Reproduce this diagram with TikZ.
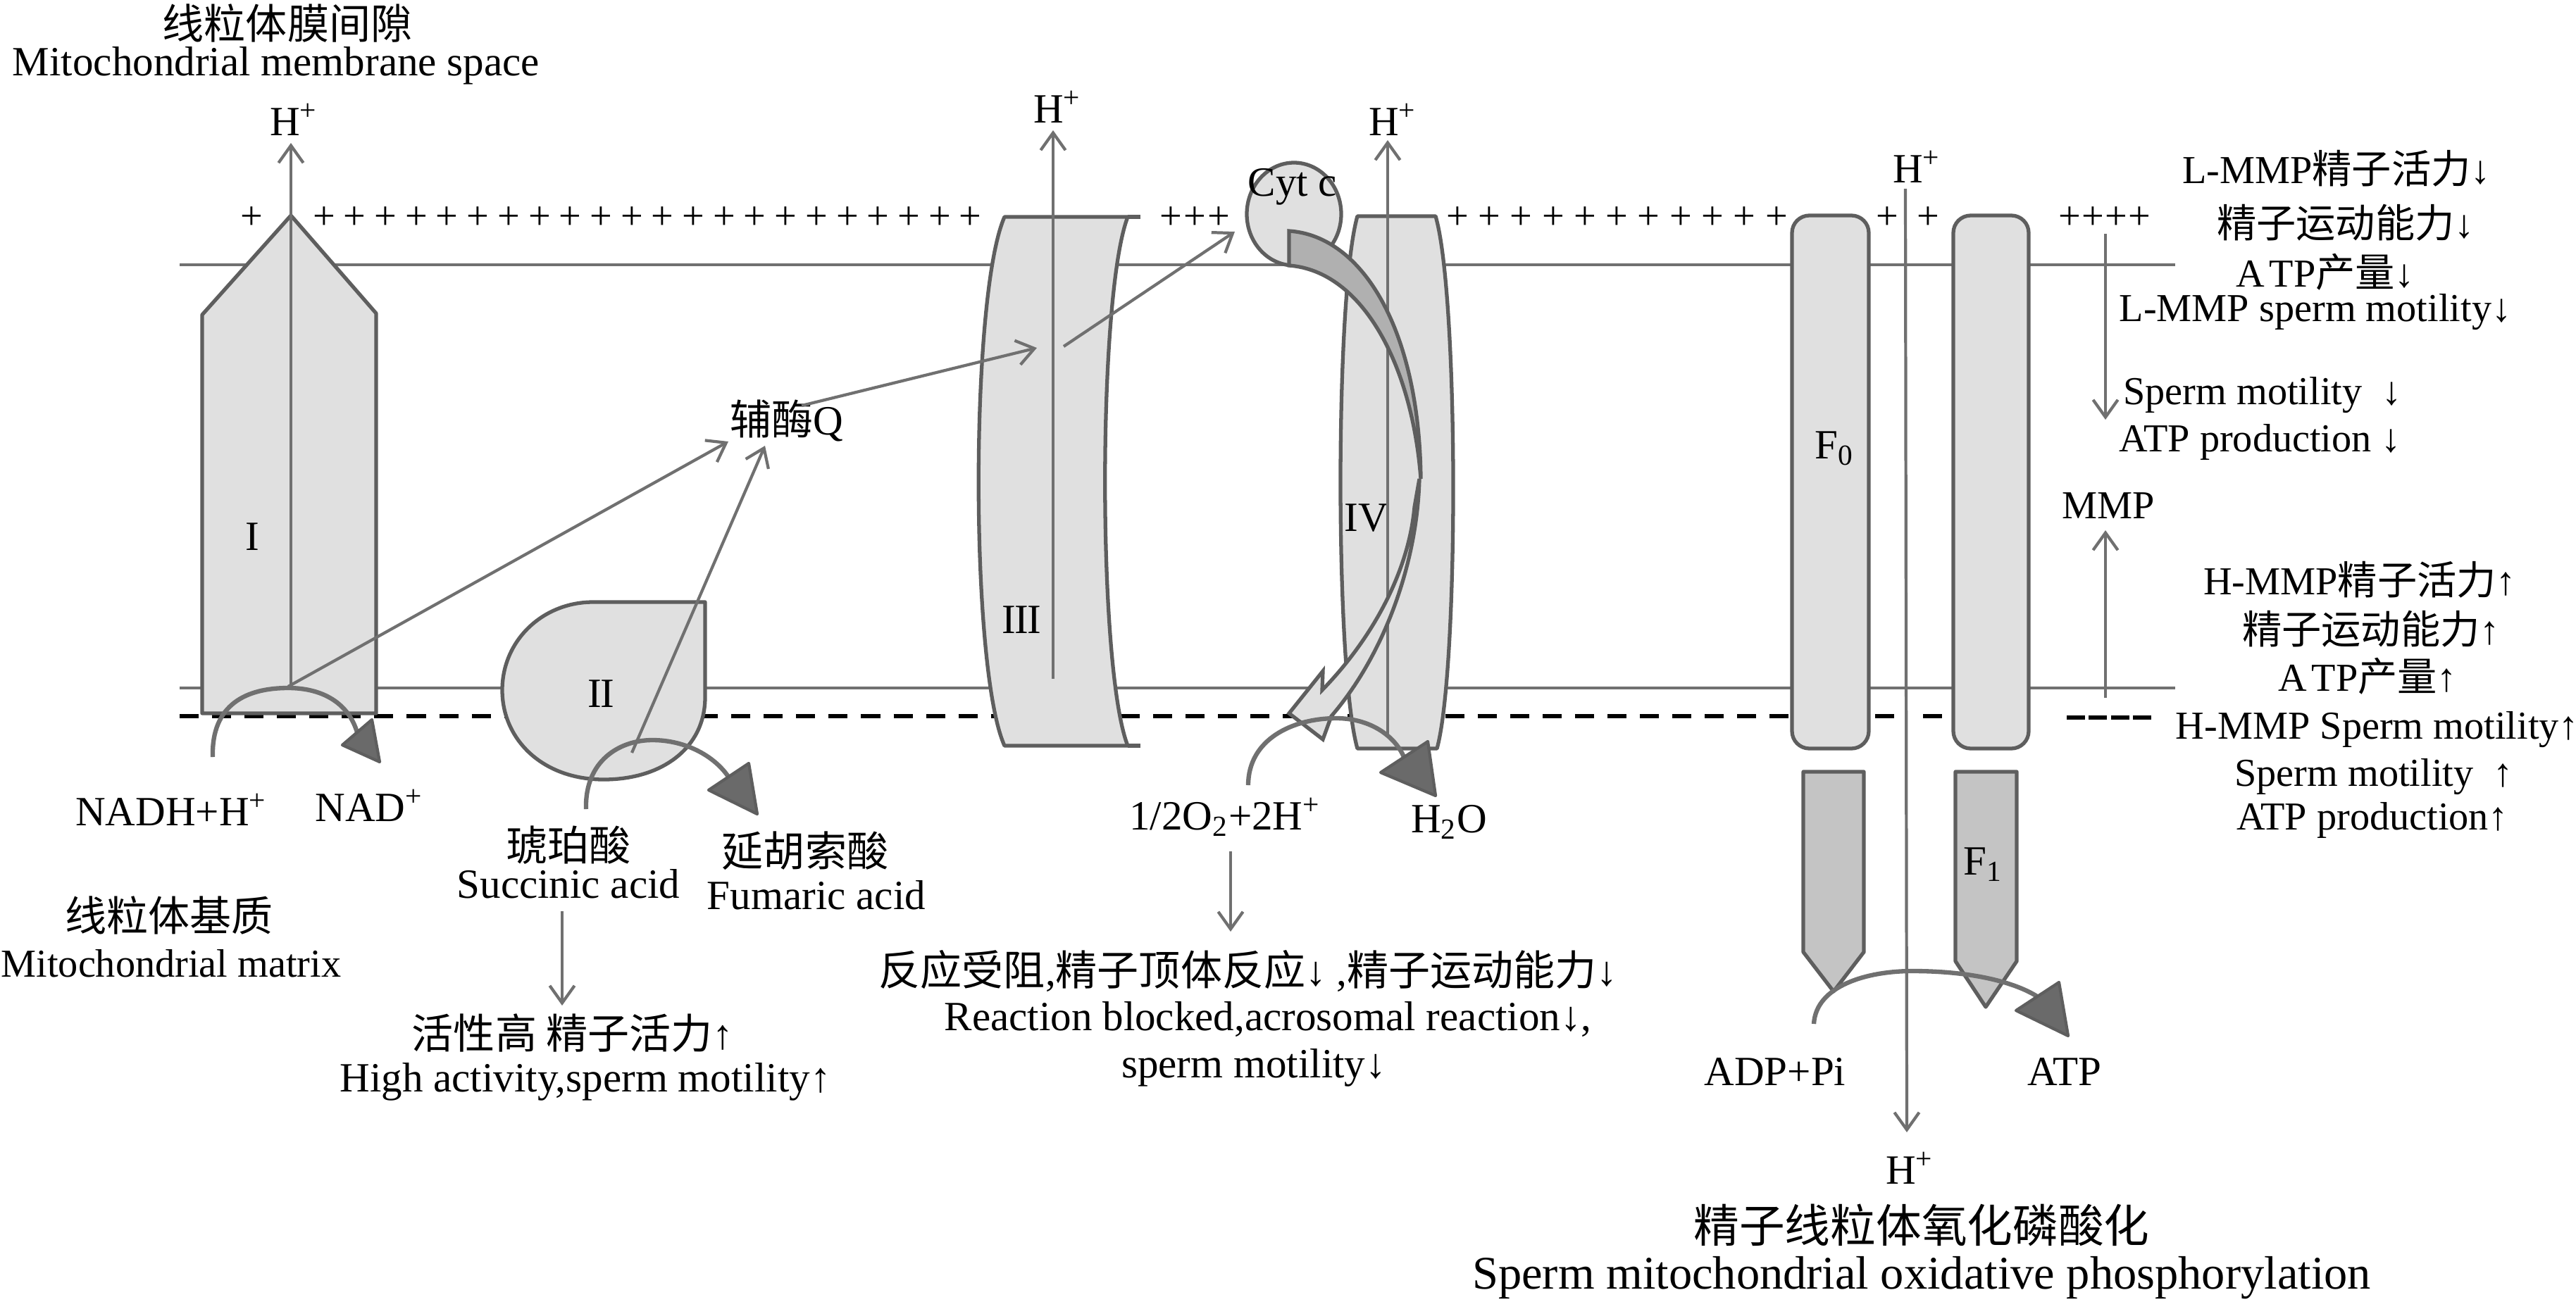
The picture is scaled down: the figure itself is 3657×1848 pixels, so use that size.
\documentclass[tikz,border=0pt]{standalone}
\usepackage{fontspec}
\setmainfont{Liberation Serif}
\newfontfamily\cjk{Noto Sans CJK SC}
\usetikzlibrary{arrows.meta}
\definecolor{fillL}{HTML}{E0E0E0}
\definecolor{edge}{HTML}{5E5E5E}
\definecolor{arr}{HTML}{707070}
\definecolor{memb}{HTML}{707070}
\definecolor{fone}{HTML}{C4C4C4}
\definecolor{headc}{HTML}{6A6A6A}
\definecolor{bandc}{HTML}{B0B0B0}
\tikzset{
  shapebox/.style={draw=edge, fill=fillL, line width=1.5pt, line join=round},
  membline/.style={draw=memb, line width=1.4pt},
  dashline/.style={draw=black, line width=1.7pt, dash pattern=on 7.7pt off 5.4pt},
  arrowline/.style={draw=arr, line width=1.2pt, -{Straight Barb[length=7pt,width=10pt,line width=1.2pt]}},
  arcline/.style={draw=arr, line width=1.8pt},
  headtri/.style={fill=headc, draw=edge, line width=1.2pt, line join=round},
  txt/.style={font=\fontsize{16.8}{20}\selectfont, inner sep=0pt},
  rtxt/.style={font=\fontsize{16}{19}\selectfont, inner sep=0pt},
  bigtxt/.style={font=\fontsize{18.4}{22}\selectfont, inner sep=0pt},
  bigtxte/.style={font=\fontsize{18.9}{22}\selectfont, inner sep=0pt},
  plus/.style={font=\fontsize{16}{19}\selectfont, inner sep=0pt}
}
\begin{document}
\begin{tikzpicture}[x=0.01cm,y=-0.01cm]
\useasboundingbox (0,0) rectangle (3657,1848);

% membranes
\draw[membline] (255,376) -- (3088,376);
\draw[membline] (255,977) -- (3088,977);
\draw[dashline] (255,1017) -- (2544,1017);
\draw[dashline, dash pattern=on 7.7pt off 1pt] (2662,1017) -- (2689,1017);
\draw[dashline, dash pattern=on 7.7pt off 1pt] (2730,1017) -- (2757,1017);
\draw[dashline, dash pattern=on 7.4pt off 1.5pt] (2934,1019) -- (3058,1019);

% plus signs
\node[plus] (p0) at (357,310) {+};
\foreach \i in {0,...,21} \node[plus] (pa\i) at ({460+43.7*\i},310) {+};
\foreach \i in {0,1,2} \node[plus] (pb\i) at ({1662+34*\i},310) {+};
\foreach \i in {0,...,10} \node[plus] (pc\i) at ({2069+45.3*\i},310) {+};
\node[plus] (pd0) at (2679,310) {+};
\node[plus] (pd1) at (2737,310) {+};
\foreach \i in {0,...,3} \node[plus] (pe\i) at ({2938+33*\i},310) {+};

% Complex I
\draw[shapebox] (287,1013) -- (287,447) -- (413,306) -- (534,445) -- (534,1013) -- cycle;
% Complex II
\draw[shapebox] (842,855) -- (1001,855) -- (1001,990) .. controls (1001,1062) and (940,1107) .. (857,1107)
  .. controls (770,1107) and (713,1050) .. (713,980) .. controls (713,910) and (770,855) .. (842,855) -- cycle;
% Complex III
\draw[shapebox] (1426,308) -- (1601,308) .. controls (1558,420) and (1558,950) .. (1601,1059) -- (1426,1059)
  .. controls (1377,950) and (1377,420) .. (1426,308) -- cycle;
\draw[draw=edge, line width=1.5pt] (1601,308) -- (1619,308);
\draw[draw=edge, line width=1.5pt] (1601,1059) -- (1619,1059);
% Cyt c
\draw[shapebox] (1837,304) ellipse [x radius=67, y radius=73];
% Complex IV
\draw[shapebox] (1927,307) -- (2038,307) .. controls (2071,420) and (2071,950) .. (2040,1063) -- (1927,1063)
  .. controls (1895,950) and (1895,420) .. (1927,307) -- cycle;
% F0
\draw[shapebox, rounded corners=7pt] (2544,306) rectangle (2653,1063);
\draw[shapebox, rounded corners=7pt] (2773,306) rectangle (2880,1063);
% F1
\draw[shapebox, fill=fone] (2560,1096) -- (2646,1096) -- (2646,1352) -- (2603,1408) -- (2560,1352) -- cycle;
\draw[shapebox, fill=fone] (2776,1096) -- (2863,1096) -- (2863,1365) -- (2819,1430) -- (2776,1365) -- cycle;

% labels of complexes
\node[txt] (labI) at (358,762) {I};
\node[txt] (labII) at (853,985) {I\kern-0.5ptI};
\node[txt] (labIII) at (1450,880) {I\kern-0.5ptI\kern-0.5ptI};
\node[txt] (labIV) at (1940,736) {IV};
\node[txt] (labF0) at (2604,637) {F\textsubscript{0}};
\node[txt] (labF1) at (2815,1228) {F\textsubscript{1}};
\node[txt] (cyt) at (1835,265) {Cyt c};
\node[txt] (Q) at (1117,597) {{\cjk 辅酶}Q};

% H+ labels
\node[txt] (hI) at (417,170) {H\textsuperscript{+}};
\node[txt] (hIII) at (1501,152) {H\textsuperscript{+}};
\node[txt] (hIV) at (1977,170) {H\textsuperscript{+}};
\node[txt] (hF) at (2721,237) {H\textsuperscript{+}};
\node[txt] (hFb) at (2711,1659) {H\textsuperscript{+}};

% coordinates for connectors
\coordinate (Ibot) at (413,977);
\coordinate (Itop) at (413,203);
\coordinate (IIIbot) at (1495,964);
\coordinate (IIItop) at (1495,185);
\coordinate (IVbot) at (1970,1047);
\coordinate (IVtop) at (1970,199);
\coordinate (Fstart) at (2705,268);
\coordinate (Fend) at (2707,1608);
\coordinate (Ibase) at (409,975);
\coordinate (Qin1) at (1034,627);
\coordinate (IIbase) at (897,1069);
\coordinate (Qin2) at (1086,633);
\coordinate (Qout) at (1138,576);
\coordinate (IIIin) at (1472,494);
\coordinate (IIIout) at (1510,492);
\coordinate (Cytin) at (1753,329);

% vertical proton arrows
\draw[arrowline] (Ibot) -- (Itop);
\draw[arrowline] (IIIbot) -- (IIItop);
\draw[arrowline] (IVbot) -- (IVtop);
\draw[arrowline] (Fstart) -- (Fend);

% electron arrows
\draw[arrowline] (Ibase) -- (Qin1);
\draw[arrowline] (IIbase) -- (Qin2);
\draw[arrowline] (Qout) -- (IIIin);
\draw[arrowline] (IIIout) -- (Cytin);

% big curved band arrow from Cyt c
\draw[draw=edge, fill=fillL, line width=1.5pt, line join=miter]
  (2015,680) .. controls (2012,800) and (1965,930) .. (1890,1017) -- (1878,1050) -- (1830,1013) -- (1878,953) -- (1877,980)
  .. controls (1950,905) and (2000,810) .. (2008,720) -- cycle;
\draw[draw=edge, fill=bandc, line width=1.5pt, line join=miter]
  (1830,328) .. controls (1935,335) and (2015,470) .. (2017,680)
  .. controls (2005,520) and (1935,385) .. (1830,377) -- cycle;
\draw[arrowline, -] (1970,560) -- (1970,720);

% reaction arcs
\draw[arcline] (302,1075) .. controls (300,1000) and (350,977) .. (409,977) .. controls (460,977) and (495,1000) .. (507,1040);
\draw[headtri] (486,1058) -- (528,1022) -- (539,1082) -- cycle;
\draw[arcline] (832,1149) .. controls (830,1080) and (880,1051) .. (926,1051) .. controls (975,1051) and (1015,1075) .. (1034,1103);
\draw[headtri] (1006,1122) -- (1063,1084) -- (1075,1156) -- cycle;
\draw[arcline] (1772,1115) .. controls (1772,1050) and (1835,1020) .. (1897,1020) .. controls (1945,1020) and (1980,1045) .. (1993,1075);
\draw[headtri] (1960,1097) -- (2027,1053) -- (2038,1130) -- cycle;
\draw[arcline] (2575,1454) .. controls (2578,1400) and (2650,1379) .. (2715,1379) .. controls (2800,1379) and (2860,1395) .. (2892,1415);
\draw[headtri] (2862,1435) -- (2923,1395) -- (2936,1471) -- cycle;

% texts
\node[txt] (t1) at (408,33) {\cjk 线粒体膜间隙};
\node[txt] (t2) at (392,93) {Mitochondrial membrane space};
\node[txt] (nadh) at (243,1150) {NADH+H\textsuperscript{+}};
\node[txt] (nad) at (524,1144) {NAD\textsuperscript{+}};
\node[txt] (succ) at (807,1200) {\cjk 琥珀酸};
\node[txt] (succe) at (807,1255) {Succinic acid};
\node[txt] (fum) at (1143,1208) {\cjk 延胡索酸};
\node[txt] (fume) at (1159,1271) {Fumaric acid};
\node[txt] (mat) at (240,1300) {\cjk 线粒体基质};
\node[rtxt] (mate) at (243,1368) {Mitochondrial matrix};
\node[txt] (hi) at (813,1467) {{\cjk 活性高 精子活力}↑};
\node[txt] (hie) at (831,1536) {High activity,sperm motility↑};
\node[txt] (oxy) at (1739,1160) {1/2O\textsubscript{2}+2H\textsuperscript{+}};
\node[txt] (water) at (2057,1167) {H\textsubscript{2}O};
\node[txt] (blk) at (1772,1379) {{\cjk 反应受阻},{\cjk 精子顶体反应}↓ ,{\cjk 精子运动能力}↓};
\node[txt] (blke) at (1800,1448) {Reaction blocked,acrosomal reaction↓,};
\node[txt] (blke2) at (1780,1516) {sperm motility↓};
\node[txt] (adp) at (2520,1522) {ADP+Pi};
\node[txt] (atp) at (2931,1522) {ATP};
\node[bigtxt] (title) at (2728,1740) {\cjk 精子线粒体氧化磷酸化};
\node[bigtxte] (titlee) at (2728,1815) {Sperm mitochondrial oxidative phosphorylation};

% right side
\node[rtxt] (r1) at (3317,239) {L-MMP{\cjk 精子活力}↓};
\node[rtxt] (r2) at (3330,316) {{\cjk 精子运动能力}↓};
\node[rtxt] (r3) at (3301,386) {A\kern2ptTP{\cjk 产量}↓};
\node[rtxt] (r4) at (3287,443) {L-MMP sperm motility↓};
\node[rtxt] (r5) at (3212,561) {Sperm motility\ \ ↓};
\node[rtxt] (r6) at (3209,628) {ATP production ↓};
\node[rtxt] (mmp) at (2993,718) {MMP};
\node[rtxt] (r7) at (3350,823) {H-MMP{\cjk 精子活力}↑};
\node[rtxt] (r8) at (3366,893) {{\cjk 精子运动能力}↑};
\node[rtxt] (r9) at (3361,960) {A\kern2ptTP{\cjk 产量}↑};
\node[rtxt] (r10) at (3375,1036) {H-MMP Sperm motility↑};
\node[rtxt] (r11) at (3370,1103) {Sperm motility\ \ ↑};
\node[rtxt] (r12) at (3368,1165) {ATP production↑};

% connectors to outcomes
\coordinate (sdown) at (798,1294);
\coordinate (sdownE) at (798,1428);
\coordinate (odown) at (1747,1209);
\coordinate (odownE) at (1747,1323);
\coordinate (mA) at (2989,332);
\coordinate (mB) at (2989,596);
\coordinate (mC) at (2989,991);
\coordinate (mD) at (2989,753);
\draw[arrowline] (sdown) -- (sdownE);
\draw[arrowline] (odown) -- (odownE);
\draw[arrowline] (mA) -- (mB);
\draw[arrowline] (mC) -- (mD);
\end{tikzpicture}
\end{document}
